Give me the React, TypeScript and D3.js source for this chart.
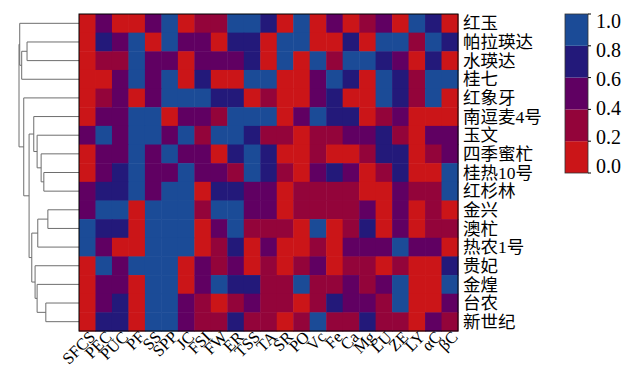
import React from 'react';
import * as d3 from 'd3';

// row (cultivar) labels, top to bottom
const rowLabels = ['红玉', '帕拉瑛达', '水瑛达', '桂七', '红象牙', '南逗麦4号', '玉文', '四季蜜杧', '桂热10号',
    '红杉林', '金兴', '澳杧', '热农1号', '贵妃', '金煌', '台农', '新世纪'];

// column (trait) labels, left to right
const colLabels = ['SFCS', 'PEC', 'PUC', 'PF', 'SS', 'SPP', 'JC', 'FSI', 'FW', 'ER', 'TSS', 'TA', 'SR', 'PO',
    'Vc', 'Fe', 'Ca', 'Mg', 'LU', 'ZE', 'LY', 'αC', 'βC'];

// normalised values, one array per row
const cellValues = [
    [0.1, 0.5, 0.1, 0.1, 0.5, 0.9, 0.1, 0.3, 0.3, 0.9, 0.9, 0.7, 0.1, 0.9, 0.1, 0.5, 0.1, 0.3, 0.5, 0.1, 0.9, 0.7, 0.1],
    [0.1, 0.7, 0.5, 0.9, 0.1, 0.9, 0.5, 0.5, 0.1, 0.7, 0.7, 0.1, 0.9, 0.9, 0.1, 0.1, 0.7, 0.1, 0.9, 0.9, 0.3, 0.9, 0.7],
    [0.1, 0.3, 0.3, 0.9, 0.5, 0.5, 0.1, 0.5, 0.5, 0.5, 0.7, 0.1, 0.9, 0.1, 0.9, 0.3, 0.9, 0.9, 0.7, 0.5, 0.1, 0.7, 0.1],
    [0.1, 0.1, 0.5, 0.9, 0.5, 0.9, 0.1, 0.7, 0.1, 0.1, 0.9, 0.9, 0.1, 0.1, 0.5, 0.9, 0.7, 0.1, 0.9, 0.7, 0.3, 0.9, 0.9],
    [0.1, 0.3, 0.5, 0.1, 0.5, 0.9, 0.9, 0.9, 0.7, 0.7, 0.1, 0.3, 0.1, 0.1, 0.5, 0.7, 0.1, 0.1, 0.9, 0.7, 0.3, 0.9, 0.1],
    [0.1, 0.5, 0.5, 0.9, 0.9, 0.1, 0.5, 0.5, 0.3, 0.9, 0.9, 0.9, 0.1, 0.5, 0.9, 0.7, 0.7, 0.1, 0.3, 0.5, 0.1, 0.1, 0.1],
    [0.5, 0.9, 0.5, 0.9, 0.9, 0.5, 0.9, 0.3, 0.9, 0.9, 0.7, 0.3, 0.3, 0.1, 0.3, 0.3, 0.5, 0.5, 0.7, 0.3, 0.1, 0.5, 0.5],
    [0.1, 0.5, 0.5, 0.9, 0.5, 0.9, 0.5, 0.5, 0.1, 0.7, 0.9, 0.7, 0.1, 0.1, 0.3, 0.1, 0.1, 0.3, 0.7, 0.7, 0.1, 0.3, 0.5],
    [0.1, 0.5, 0.7, 0.9, 0.5, 0.5, 0.9, 0.5, 0.5, 0.3, 0.9, 0.7, 0.3, 0.1, 0.5, 0.7, 0.5, 0.1, 0.3, 0.7, 0.1, 0.1, 0.9],
    [0.5, 0.7, 0.7, 0.9, 0.5, 0.9, 0.9, 0.1, 0.7, 0.7, 0.5, 0.5, 0.1, 0.3, 0.3, 0.3, 0.3, 0.1, 0.1, 0.5, 0.3, 0.3, 0.9],
    [0.5, 0.9, 0.9, 0.1, 0.9, 0.9, 0.9, 0.3, 0.9, 0.9, 0.5, 0.5, 0.1, 0.3, 0.3, 0.3, 0.3, 0.5, 0.1, 0.5, 0.1, 0.3, 0.1],
    [0.9, 0.7, 0.7, 0.1, 0.9, 0.9, 0.9, 0.1, 0.5, 0.9, 0.3, 0.3, 0.3, 0.1, 0.9, 0.1, 0.3, 0.7, 0.1, 0.5, 0.1, 0.3, 0.3],
    [0.9, 0.5, 0.1, 0.1, 0.9, 0.9, 0.9, 0.1, 0.3, 0.7, 0.1, 0.5, 0.1, 0.1, 0.3, 0.1, 0.5, 0.5, 0.5, 0.9, 0.5, 0.5, 0.1],
    [0.1, 0.9, 0.5, 0.9, 0.9, 0.9, 0.1, 0.5, 0.3, 0.5, 0.1, 0.3, 0.1, 0.3, 0.5, 0.1, 0.3, 0.3, 0.1, 0.3, 0.1, 0.1, 0.7],
    [0.1, 0.5, 0.5, 0.1, 0.9, 0.9, 0.1, 0.5, 0.9, 0.7, 0.7, 0.3, 0.3, 0.9, 0.3, 0.3, 0.5, 0.3, 0.5, 0.9, 0.1, 0.1, 0.9],
    [0.1, 0.5, 0.7, 0.1, 0.9, 0.9, 0.5, 0.3, 0.1, 0.3, 0.5, 0.3, 0.3, 0.1, 0.3, 0.7, 0.5, 0.5, 0.3, 0.9, 0.1, 0.1, 0.5],
    [0.1, 0.7, 0.7, 0.1, 0.9, 0.9, 0.5, 0.3, 0.3, 0.7, 0.3, 0.3, 0.1, 0.3, 0.9, 0.3, 0.3, 0.7, 0.3, 0.3, 0.1, 0.5, 0.3],
];

// colour classes, low to high
const classColors = ['#cb1518', '#93043a', '#600062', '#23197a', '#1b4b97'];
const legendTicks = [0, 0.2, 0.4, 0.6, 0.8, 1.0];

// row dendrogram: leaves are row indices, h is merge height (root = 1)
type DNode = number | { h: number; c: [DNode, DNode] };
const dendrogram: DNode = {
    h: 1.0, c: [
        { h: 0.988, c: [0, { h: 0.955, c: [{ h: 0.866, c: [1, 2] }, 3] }] },
        {
            h: 0.921, c: [4, {
                h: 0.832, c: [
                    { h: 0.754, c: [5, { h: 0.698, c: [6, { h: 0.631, c: [7, { h: 0.586, c: [8, 9] }] }] }] },
                    {
                        h: 0.787, c: [
                            { h: 0.687, c: [{ h: 0.519, c: [10, 11] }, 12] },
                            { h: 0.732, c: [13, { h: 0.698, c: [14, { h: 0.553, c: [15, 16] }] }] },
                        ]
                    },
                ]
            }]
        },
    ]
};

const W = 635, H = 368;
const heat = { left: 79, right: 458, top: 14, bottom: 331 };
const serif = '"Liberation Serif", "Times New Roman", serif';
const cjk = '"Liberation Serif", "Noto Sans CJK SC", serif';

export default function App() {
    const x = d3.scaleBand<string>().domain(colLabels).range([heat.left, heat.right]);
    const y = d3.scaleBand<string>().domain(rowLabels).range([heat.top, heat.bottom]);
    const color = d3.scaleQuantize<string>().domain([0, 1]).range(classColors);
    const hx = d3.scaleLinear().domain([0, 1]).range([heat.left, 19]);

    // dendrogram segments
    const segs: { x1: number; y1: number; x2: number; y2: number }[] = [];
    const walk = (n: DNode): { x: number; y: number } => {
        if (typeof n === 'number') {
            return { x: hx(0), y: (y(rowLabels[n]) as number) + y.bandwidth() / 2 };
        }
        const a = walk(n.c[0]);
        const b = walk(n.c[1]);
        const nx = hx(n.h);
        segs.push({ x1: nx, y1: a.y, x2: nx, y2: b.y });
        segs.push({ x1: nx, y1: a.y, x2: a.x, y2: a.y });
        segs.push({ x1: nx, y1: b.y, x2: b.x, y2: b.y });
        return { x: nx, y: (a.y + b.y) / 2 };
    };
    walk(dendrogram);

    // colour bar
    const bar = { x: 565, w: 23, top: 14, bottom: 173 };
    const barY = d3.scaleLinear().domain([0, 1]).range([bar.bottom, bar.top]);
    const labY = d3.scaleLinear().domain([0, 1]).range([166, 21]);

    return (
        <svg width={W} height={H} style={{ position: 'absolute', left: 0, top: 0, background: '#fff' }}>
            <g>
                {segs.map((s, i) => (
                    <line key={i} x1={s.x1} y1={s.y1} x2={s.x2} y2={s.y2} stroke="#6e6e6e" strokeWidth={1} />
                ))}
            </g>
            <g>
                {cellValues.map((row, i) => row.map((v, j) => (
                    <rect key={i + '-' + j}
                        x={x(colLabels[j])} y={y(rowLabels[i])}
                        width={x.bandwidth() + 0.5} height={y.bandwidth() + 0.5}
                        fill={color(v)} />
                )))}
                <rect x={heat.left} y={heat.top} width={heat.right - heat.left} height={heat.bottom - heat.top}
                    fill="none" stroke="#000" strokeWidth={1} />
            </g>
            <g fontFamily={cjk} fontSize={17.5} fill="#000">
                {rowLabels.map(r => (
                    <text key={r} x={heat.right + 5} y={(y(r) as number) + y.bandwidth() / 2} dy="0.35em">{r}</text>
                ))}
            </g>
            <g fontFamily={serif} fontSize={16.5} fill="#000">
                {colLabels.map(c => {
                    const cx = (x(c) as number) + x.bandwidth() / 2;
                    return (
                        <text key={c} transform={`translate(${cx + 5},${heat.bottom + 3}) rotate(-45)`}
                            textAnchor="end" dy="0.35em">{c}</text>
                    );
                })}
            </g>
            <g>
                {classColors.map((c, i) => (
                    <rect key={c} x={bar.x} y={barY((i + 1) / 5)} width={bar.w}
                        height={barY(i / 5) - barY((i + 1) / 5)} fill={c} />
                ))}
                <rect x={bar.x} y={bar.top} width={bar.w} height={bar.bottom - bar.top}
                    fill="none" stroke="#333" strokeWidth={0.8} />
                {legendTicks.map(t => (
                    <g key={t}>
                        <line x1={bar.x + bar.w} x2={bar.x + bar.w + 3} y1={barY(t)} y2={barY(t)} stroke="#000" />
                        <text x={bar.x + bar.w + 8} y={labY(t)} dy="0.35em" fontFamily={serif} fontSize={20}>
                            {t.toFixed(1)}
                        </text>
                    </g>
                ))}
            </g>
        </svg>
    );
}
